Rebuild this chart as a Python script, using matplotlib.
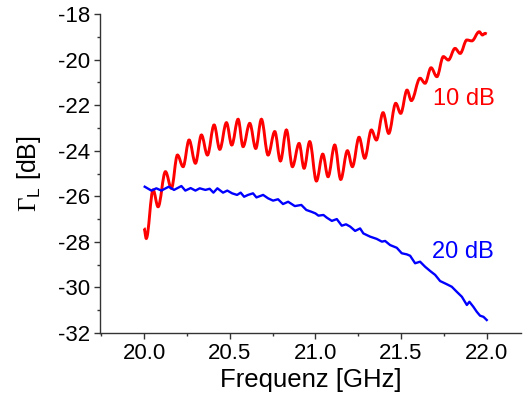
import numpy as np
import matplotlib
matplotlib.use("Agg")
from matplotlib import pyplot as plt
from matplotlib.path import Path
from matplotlib.patches import PathPatch
from matplotlib.ticker import MultipleLocator, FormatStrFormatter

plt.rcParams['font.family'] = ['Liberation Sans', 'DejaVu Sans']
plt.rcParams['axes.unicode_minus'] = False
plt.rcParams['mathtext.fontset'] = 'custom'
plt.rcParams['mathtext.rm'] = 'Liberation Serif'
plt.rcParams['mathtext.sf'] = 'Liberation Sans'

# 10 dB trace: turning points of the ripple (GHz, dB)
freq_10 = [20.000, 20.013, 20.053, 20.082, 20.125, 20.160, 20.195, 20.228, 20.263, 20.300,
           20.335, 20.370, 20.409, 20.442, 20.481, 20.512, 20.549, 20.578, 20.617, 20.652,
           20.685, 20.724, 20.763, 20.796, 20.831, 20.866, 20.905, 20.934, 20.967, 21.006,
           21.043, 21.074, 21.113, 21.148, 21.187, 21.216, 21.255, 21.288, 21.327, 21.356,
           21.395, 21.428, 21.469, 21.498, 21.535, 21.560, 21.611, 21.640, 21.675, 21.709,
           21.747, 21.776, 21.815, 21.845, 21.884, 21.913, 21.956, 21.975, 21.991, 22.000]
gamma_10 = [-27.40, -27.85, -25.72, -26.46, -24.92, -25.65, -24.19, -24.70, -23.53, -24.55,
            -23.31, -24.19, -22.87, -23.94, -22.77, -23.75, -22.62, -23.82, -22.80, -23.90,
            -22.62, -24.19, -23.16, -24.45, -23.09, -24.70, -23.68, -24.77, -23.60, -25.33,
            -24.15, -25.14, -23.75, -25.26, -24.00, -24.70, -23.41, -24.33, -23.09, -23.53,
            -22.33, -23.24, -21.92, -22.36, -21.34, -21.80, -20.82, -21.04, -20.36, -20.75,
            -19.87, -20.02, -19.51, -19.73, -19.14, -19.18, -18.78, -18.92, -18.85, -18.88]

# 20 dB trace (GHz, dB)
freq_20 = [20.004, 20.043, 20.072, 20.101, 20.144, 20.175, 20.218, 20.241, 20.272, 20.300,
           20.325, 20.358, 20.383, 20.405, 20.428, 20.461, 20.486, 20.514, 20.543, 20.564,
           20.584, 20.607, 20.636, 20.656, 20.695, 20.724, 20.753, 20.782, 20.811, 20.841,
           20.880, 20.918, 20.947, 20.977, 21.000, 21.018, 21.047, 21.067, 21.096, 21.125,
           21.154, 21.179, 21.203, 21.232, 21.261, 21.280, 21.319, 21.358, 21.388, 21.407,
           21.436, 21.475, 21.504, 21.534, 21.553, 21.582, 21.611, 21.640, 21.670, 21.699,
           21.728, 21.767, 21.796, 21.825, 21.855, 21.884, 21.899, 21.922, 21.942, 21.961,
           21.981, 22.000]
gamma_20 = [-25.58, -25.75, -25.65, -25.75, -25.58, -25.72, -25.55, -25.75, -25.64, -25.75,
            -25.65, -25.72, -25.67, -25.84, -25.65, -25.84, -25.75, -25.87, -25.94, -25.84,
            -26.02, -25.94, -25.87, -26.05, -25.94, -26.09, -26.19, -26.13, -26.34, -26.24,
            -26.43, -26.38, -26.60, -26.68, -26.75, -26.85, -26.82, -26.94, -27.08, -27.00,
            -27.29, -27.23, -27.33, -27.52, -27.41, -27.63, -27.77, -27.87, -27.99, -27.96,
            -28.14, -28.26, -28.50, -28.55, -28.61, -28.94, -28.87, -29.09, -29.28, -29.45,
            -29.72, -29.86, -29.97, -30.19, -30.41, -30.77, -30.63, -30.85, -31.07, -31.24,
            -31.29, -31.43]


def ripple_path(x, y, k=0.36):
    # smooth curve through turning points, flat tangent at each one
    verts = [(x[0], y[0])]
    codes = [Path.MOVETO]
    for i in range(1, len(x)):
        dx = x[i] - x[i - 1]
        verts += [(x[i - 1] + k * dx, y[i - 1]), (x[i] - k * dx, y[i]), (x[i], y[i])]
        codes += [Path.CURVE4] * 3
    return Path(verts, codes)


fig = plt.figure(figsize=(5.25, 4.01), dpi=100)
ax = fig.add_axes([100 / 525, 68 / 401, 421 / 525, 319 / 401])

ax.add_patch(PathPatch(ripple_path(freq_10, gamma_10), fill=False, edgecolor='#ff0000', lw=2.1))
ax.plot(freq_20, gamma_20, color='#0000ff', lw=1.7)

ax.text(21.687, -21.73, "10 dB", color='#ff0000', fontsize=17, va='center', ha='left')
ax.text(21.68, -28.45, "20 dB", color='#0000ff', fontsize=17, va='center', ha='left')

ax.set_xlim(19.743, 22.2)
ax.set_ylim(-32, -18)
ax.xaxis.set_major_locator(MultipleLocator(0.5))
ax.xaxis.set_minor_locator(MultipleLocator(0.25))
ax.xaxis.set_major_formatter(FormatStrFormatter('%.1f'))
ax.yaxis.set_major_locator(MultipleLocator(2))
ax.yaxis.set_minor_locator(MultipleLocator(1))

for side in ('top', 'right'):
    ax.spines[side].set_visible(False)
for side in ('left', 'bottom'):
    ax.spines[side].set_linewidth(1.0)
    ax.spines[side].set_color('#333333')

ax.tick_params(which='major', direction='out', length=4, width=1.0, color='#333333', labelsize=16, pad=3)
ax.tick_params(which='minor', direction='out', length=2.5, width=1.0, color='#333333')

ax.set_xlabel("Frequenz [GHz]", fontsize=18.5, labelpad=3)
ax.set_ylabel(r"$\Gamma_{\mathsf{L}}$ [dB]", fontsize=18, labelpad=11)

fig.savefig("out.png", dpi=100)
